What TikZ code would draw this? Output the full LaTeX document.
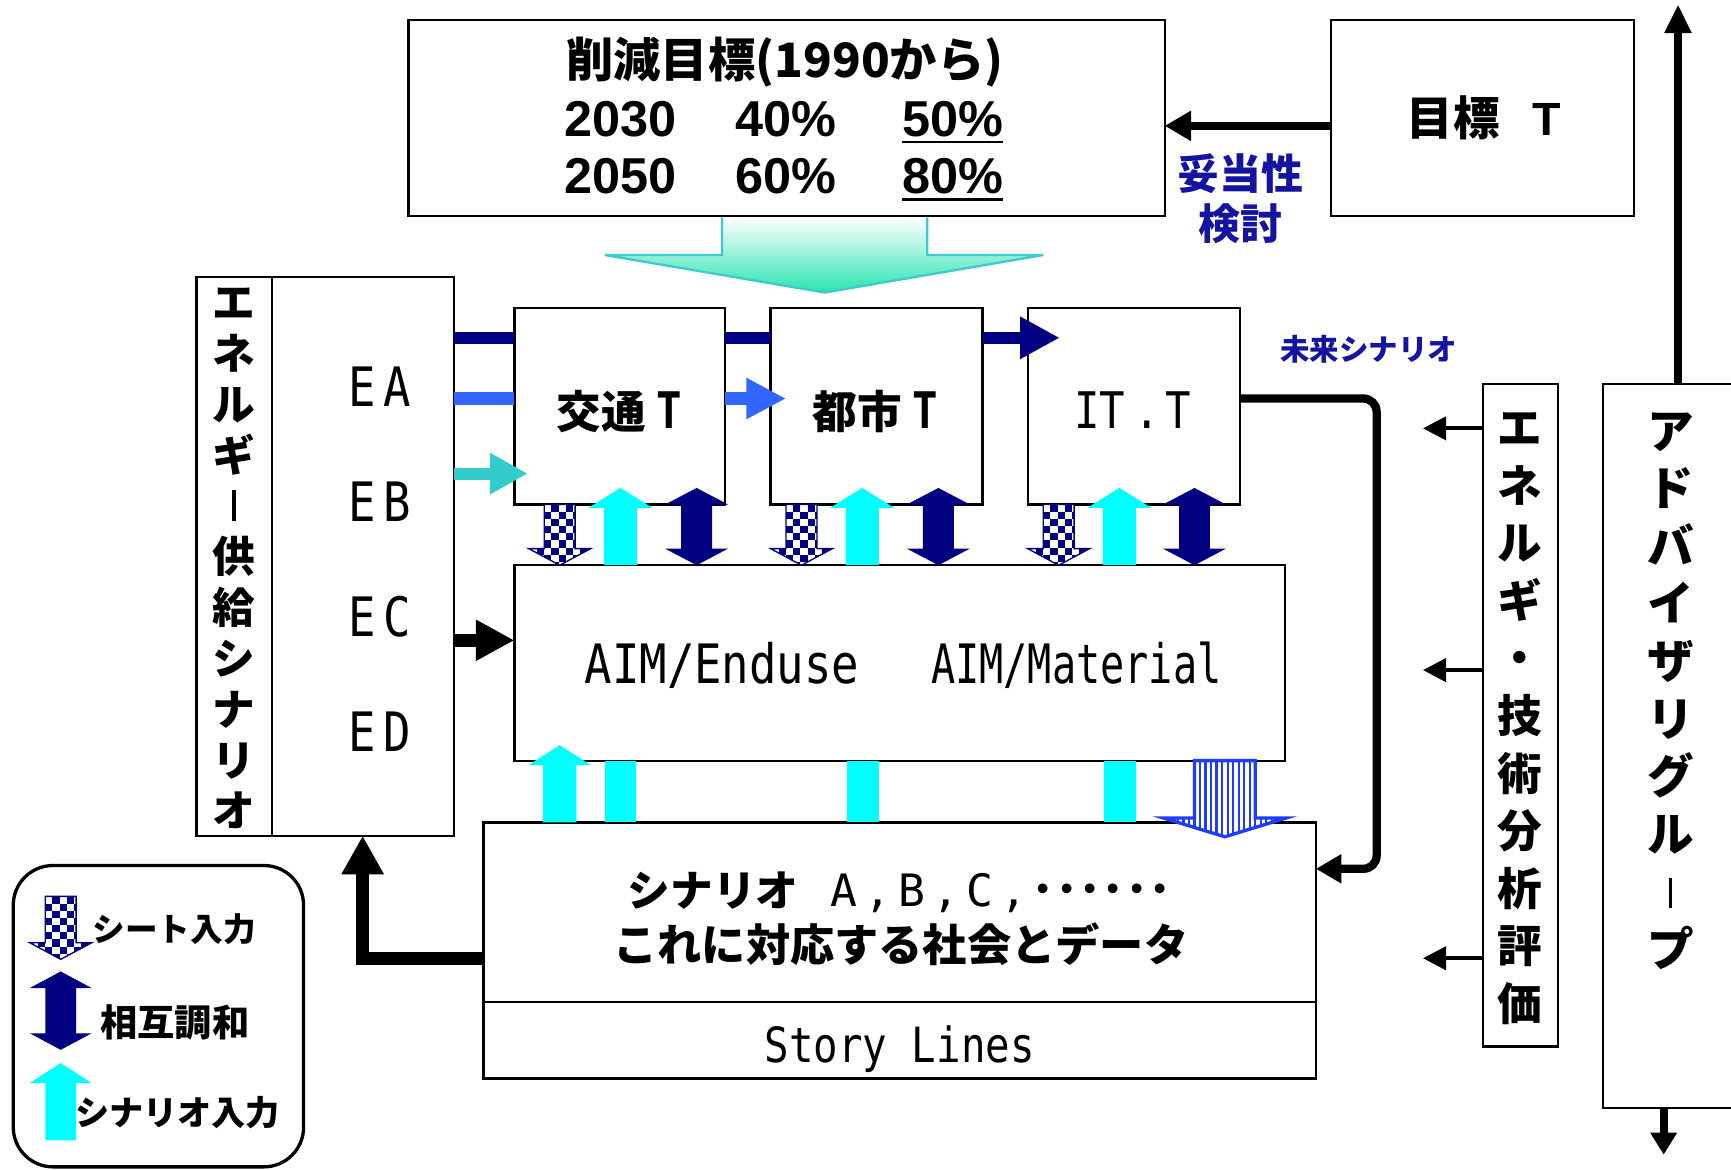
\documentclass[tikz,border=0pt]{standalone}
\usepackage{fontspec}
\usetikzlibrary{arrows.meta}
\newfontfamily\jp{Noto Sans CJK JP}
\newfontfamily\arl{Liberation Sans}
\newfontfamily\nmono{DejaVu Sans Mono}[FakeStretch=0.84]
\newfontfamily\nmonoc{DejaVu Sans Mono}[FakeStretch=0.74]
\newfontfamily\mono{DejaVu Sans Mono}
\newcommand\fsz[1]{\fontsize{#1pt}{#1pt}\selectfont}
\newcommand\vbar{\rule[0.05mm]{0.3mm}{2.8mm}}
\definecolor{navy}{RGB}{0,0,128}
\definecolor{bluel}{RGB}{51,102,255}
\definecolor{teal2}{RGB}{51,204,204}
\definecolor{cyan2}{RGB}{0,255,255}
\definecolor{txtblue}{RGB}{20,20,160}
\definecolor{stripeb}{RGB}{30,60,255}
\definecolor{aqua}{RGB}{40,228,178}
\definecolor{turq}{RGB}{64,200,208}
% vertical block arrow: cx, y base, y head base, y tip, shaft half, head half, style
\newcommand\varr[7]{\path[#7] ({#1-#5},#2) -- ({#1-#5},#3) -- ({#1-#6},#3) -- (#1,#4) -- ({#1+#6},#3) -- ({#1+#5},#3) -- ({#1+#5},#2) -- cycle;}
% double arrow: cx, tip1, headbase1, headbase2, tip2, shaft half, head half, style
\newcommand\dblarr[8]{\path[#8] ({#1-#6},#3) -- ({#1-#7},#3) -- (#1,#2) -- ({#1+#7},#3) -- ({#1+#6},#3) -- ({#1+#6},#4) -- ({#1+#7},#4) -- (#1,#5) -- ({#1-#7},#4) -- ({#1-#6},#4) -- cycle;}
% checkered down arrow: cx, y top, y head base, y tip, shaft half, head half
\newcommand\checkarr[6]{%
  \varr{#1}{#2}{#3}{#4}{#5}{#6}{fill=white}
  \begin{scope}
  \varr{#1}{#2}{#3}{#4}{#5}{#6}{clip}
  \foreach \i in {0,...,12}{\foreach \j in {0,...,9}{%
    \pgfmathtruncatemacro\chk{mod(\i+\j,2)}%
    \ifnum\chk=0 \fill[navy] ({#1-#5-19.5+\i*6.5},{#2+\j*6.5}) rectangle ++(6.5,6.5);\fi}}
  \end{scope}
  \varr{#1}{#2}{#3}{#4}{#5}{#6}{draw=navy,line width=0.35pt}}
\begin{document}
\begin{tikzpicture}[x=0.1mm,y=-0.1mm,line join=miter,
  box/.style={draw=black,line width=0.55pt,fill=white,inner sep=0pt,outer sep=0pt},
  txt/.style={inner sep=0pt,outer sep=0pt},
  navyfill/.style={fill=navy},
  cyanfill/.style={fill=cyan2}]
\useasboundingbox (0,0) rectangle (1568,1059);
% boxes
\node[box,minimum width=68.5mm,minimum height=17.8mm] (target) at (712.5,107) {};
\node[box,minimum width=27.4mm,minimum height=17.8mm] (goal) at (1343,107) {};
\node[box,minimum width=19.1mm,minimum height=17.8mm] (kotsu) at (561.5,368) {};
\node[box,minimum width=19.2mm,minimum height=17.8mm] (toshi) at (794,368) {};
\node[box,minimum width=19.2mm,minimum height=17.8mm] (it) at (1027,368) {};
\node[box,minimum width=69.8mm,minimum height=17.7mm] (aim) at (815,600.5) {};
\node[box,minimum width=6.8mm,minimum height=50.6mm] (esl) at (212,504) {};
\node[box,minimum width=16.5mm,minimum height=50.6mm] (esr) at (328.5,504) {};
\node[box,minimum width=75.4mm,minimum height=16.3mm] (scen) at (815,826.5) {};
\node[box,minimum width=75.4mm,minimum height=6.9mm] (story) at (815,942.5) {};
\node[box,minimum width=6.8mm,minimum height=60mm] (eval) at (1377,648) {};
\node[box,minimum width=14mm,minimum height=65.6mm] (adv) at (1522,676) {};
\node[draw=black,line width=0.85pt,rounded corners=3.6mm,minimum width=26.3mm,minimum height=27.3mm,inner sep=0pt] (legend) at (143.5,920.5) {};
% coordinates
\coordinate (c114) at (0,114);
\coordinate (c306) at (0,306);
\coordinate (c361) at (0,361);
\coordinate (c429) at (0,429);
\coordinate (c580) at (0,580);
\coordinate (c787) at (0,787);
\coordinate (c868) at (0,868);
\coordinate (c388) at (0,388);
\coordinate (c607) at (0,607);
\coordinate (navyend) at (960,306);
\coordinate (blueend) at (712,361);
\coordinate (tealend) at (478,429);
\coordinate (itc1) at (1247,361);
\coordinate (itc2) at (1247,787);
\coordinate (ev1) at (1289,388);
\coordinate (ev2) at (1289,607);
\coordinate (ev3) at (1289,868);
\coordinate (atop) at (1520,4);
\coordinate (abot) at (1507,1046);
% big gradient arrow
\path[top color=white,bottom color=aqua] (654,197) -- (654,231) -- (548,231) -- (747,265) -- (945,231) -- (840,231) -- (840,197) -- cycle;
\draw[turq,line width=0.6pt] (654,197) -- (654,231) -- (548,231) -- (747,265) -- (945,231) -- (840,231) -- (840,197);
% connectors
\draw[line width=0.7mm,-{Triangle[length=2.4mm,width=2.6mm]}] (goal.west |- c114) -- (target.east |- c114);
\draw[navy,line width=1.1mm] (esr.east |- c306) -- (kotsu.west |- c306);
\draw[navy,line width=1.1mm] (kotsu.east |- c306) -- (toshi.west |- c306);
\draw[navy,line width=1.1mm,-{Triangle[length=3.6mm,width=3.6mm]}] (toshi.east |- c306) -- (navyend);
\draw[bluel,line width=1.1mm] (esr.east |- c361) -- (kotsu.west |- c361);
\draw[bluel,line width=1.1mm,-{Triangle[length=3.6mm,width=3.5mm]}] (kotsu.east |- c361) -- (blueend);
\draw[teal2,line width=1.1mm,-{Triangle[length=3.4mm,width=3.5mm]}] (esr.east |- c429) -- (tealend);
\draw[black,line width=1.2mm,-{Triangle[length=3.5mm,width=3.5mm]}] (esr.east |- c580) -- (aim.west |- c580);
\draw[line width=0.75mm,rounded corners=1.2mm,-{Triangle[length=2.3mm,width=2.5mm]}] (it.east |- c361) -- (itc1) -- (itc2) -- (scen.east |- c787);
\draw[line width=1.15mm,-{Triangle[length=3.5mm,width=3.6mm]}] (scen.west |- c868) -- (esr.south |- c868) -- (esr.south);
\draw[line width=0.37mm,-{Triangle[length=2.1mm,width=2.1mm]}] (eval.west |- c388) -- (ev1);
\draw[line width=0.37mm,-{Triangle[length=2.1mm,width=2.1mm]}] (eval.west |- c607) -- (ev2);
\draw[line width=0.37mm,-{Triangle[length=2.1mm,width=2.1mm]}] (eval.west |- c868) -- (ev3);
\draw[line width=0.75mm,-{Triangle[length=2.6mm,width=2.3mm]}] (adv.north -| atop) -- (atop);
\draw[line width=0.7mm,-{Triangle[length=2mm,width=2.3mm]}] (adv.south -| abot) -- (abot);
% small arrows between T boxes and AIM
\checkarr{507}{457}{497}{512}{14}{28}
\varr{562}{512}{460}{442}{15}{29}{cyanfill}
\dblarr{631}{442}{457}{497}{512}{14}{28.5}{navyfill}
\checkarr{726}{457}{497}{512}{14}{28}
\varr{781}{512}{460}{442}{15}{29}{cyanfill}
\dblarr{850}{442}{457}{497}{512}{14}{28.5}{navyfill}
\checkarr{959}{457}{497}{512}{14}{28}
\varr{1014}{512}{460}{442}{15}{29}{cyanfill}
\dblarr{1082}{442}{457}{497}{512}{14}{28.5}{navyfill}
% arrows between AIM and scenario
\varr{507}{745}{693}{675}{15}{28}{cyanfill}
\fill[cyan2] (548,689) rectangle (576,745);
\fill[cyan2] (767,689) rectangle (796,745);
\fill[cyan2] (1000,689) rectangle (1029,745);
\varr{1109.5}{689}{741}{758}{27.5}{55.5}{fill=white}
\begin{scope}
\varr{1109.5}{689}{741}{758}{27.5}{55.5}{clip}
\foreach \x in {1057,1062,...,1165} \draw[stripeb,line width=0.2mm] (\x,680) -- (\x,765);
\end{scope}
\varr{1109.5}{689}{741}{758}{27.5}{55.5}{draw=stripeb,line width=0.3mm}
% legend
\checkarr{55}{812}{854}{869}{14}{28}
\dblarr{55}{880}{895}{936}{951}{14}{28}{navyfill}
\varr{55}{1033}{981}{963}{14}{28}{cyanfill}
\node[txt,anchor=west,font=\jp\bfseries\fsz{8.4}] (lg1) at (84,842) {シート入力};
\node[txt,anchor=west,font=\jp\bfseries\fsz{9.6}] (lg2) at (91,926) {相互調和};
\node[txt,anchor=west,font=\jp\bfseries\fsz{8.8}] (lg3) at (68,1008) {シナリオ入力};
% texts
\node[txt,font=\jp\bfseries\fsz{12.2}] (ttl) at (711,56) {削減目標(1990から)};
\node[txt,font=\arl\bfseries\fsz{13}] (y2030) at (562,108) {2030};
\node[txt,font=\arl\bfseries\fsz{13}] (p40) at (712,108) {40\%};
\node[txt,font=\arl\bfseries\fsz{13}] (p50) at (863,108) {50\%};
\node[txt,font=\arl\bfseries\fsz{13}] (y2050) at (562,160) {2050};
\node[txt,font=\arl\bfseries\fsz{13}] (p60) at (712,160) {60\%};
\node[txt,font=\arl\bfseries\fsz{13}] (p80) at (863,160) {80\%};
\draw[line width=0.7pt] ([yshift=-0.5mm]p50.base west) -- ([yshift=-0.5mm]p50.base east);
\draw[line width=0.7pt] ([yshift=-0.5mm]p80.base west) -- ([yshift=-0.5mm]p80.base east);
\node[txt,font=\jp\bfseries\fsz{12}] (goaltxt) at (1344,107) {目標\hspace{2.9mm}{\arl T}};
\node[txt,text=txtblue,font=\jp\bfseries\fsz{10.8}] (dato) at (1124,157) {妥当性};
\node[txt,text=txtblue,font=\jp\bfseries\fsz{10.8}] (kento) at (1124,203) {検討};
\node[txt,text=txtblue,font=\jp\bfseries\fsz{7.6}] (mirai) at (1240,316) {未来シナリオ};
\node[txt,anchor=base,font=\jp\bfseries\fsz{11.5}] (kotsut) at (561,388) {交通\kern1mm{\nmono\fsz{13}T}};
\node[txt,anchor=base,font=\jp\bfseries\fsz{11.5}] (toshit) at (793,388) {都市\kern1mm{\nmono\fsz{13}T}};
\node[txt,anchor=base,font=\nmono\fsz{13}] (itt) at (1026,388) {IT\kern0.8mm.\kern0.5mm T};
\node[txt,anchor=base,font=\nmono\fsz{14}] (ea) at (344,368) {E\kern0.71mm A};
\node[txt,anchor=base,font=\nmono\fsz{14}] (eb) at (344,472) {E\kern0.71mm B};
\node[txt,anchor=base,font=\nmono\fsz{14}] (ec) at (344,577) {E\kern0.71mm C};
\node[txt,anchor=base,font=\nmono\fsz{14}] (ed) at (344,681) {E\kern0.71mm D};
\node[txt,anchor=base,font=\nmono\fsz{14}] (aim1) at (654,619) {AIM/Enduse};
\node[txt,anchor=base,font=\nmonoc\fsz{14}] (aim2) at (975,619) {AIM/Material};
\node[txt,anchor=base] (sc1) at (815,821) {{\jp\bfseries\fsz{11}シナリオ}\kern2.9mm{\mono\fsz{11.5}A\kern0.65mm,\kern0.65mm B\kern0.65mm,\kern0.65mm C\kern0.65mm,\kern0.4mm}{\jp\bfseries\fsz{12}･･････}};
\node[txt,font=\jp\bfseries\fsz{11.4}] (sc2) at (816,855) {これに対応する社会とデータ};
\node[txt,anchor=base,font=\nmono\fsz{12.5}] (sl) at (815,962) {Story Lines};
\node[txt,align=center,font={\jp\bfseries\fontsize{11pt}{13.1pt}\selectfont}] (esltxt) at (212,506) {エ\\ネ\\ル\\ギ\\\vbar\\供\\給\\シ\\ナ\\リ\\オ};
\node[txt,align=center,font={\jp\bfseries\fontsize{11.5pt}{14.85pt}\selectfont}] (evaltxt) at (1377,651) {エ\\ネ\\ル\\ギ\\・\\技\\術\\分\\析\\評\\価};
\node[txt,align=center,font={\jp\bfseries\fontsize{12pt}{14.85pt}\selectfont}] (advtxt) at (1513,626) {ア\\ド\\バ\\イ\\ザ\\リ\\グ\\ル\\\vbar\\プ};
\end{tikzpicture}
\end{document}
